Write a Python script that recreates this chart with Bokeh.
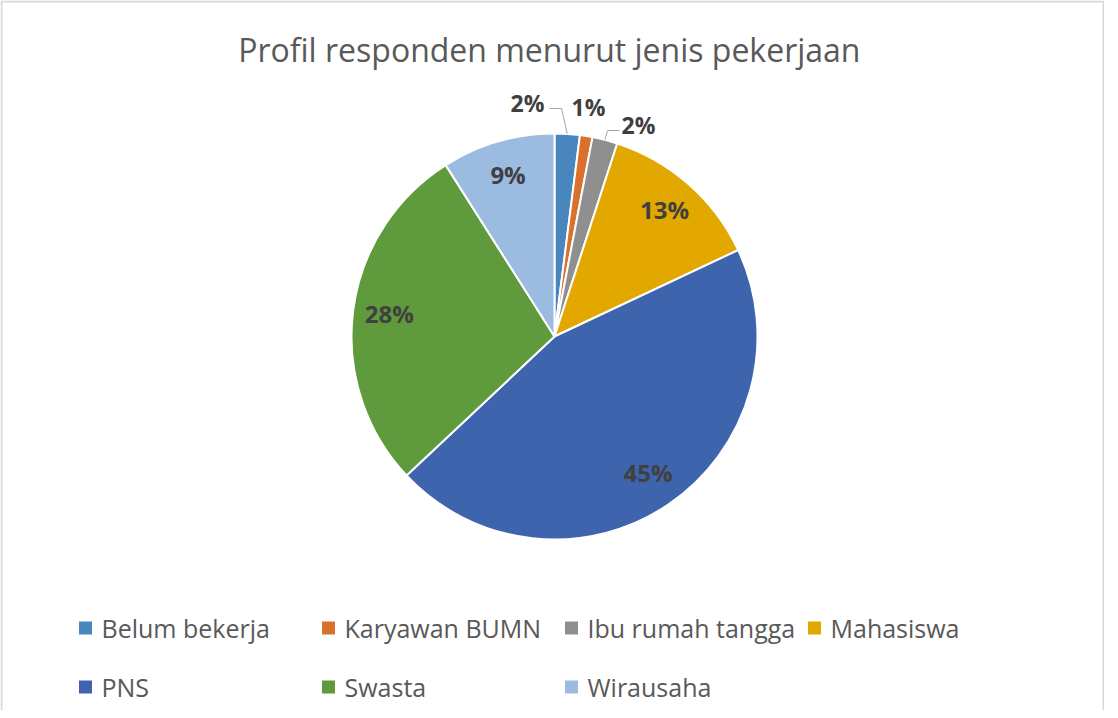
import math
from bokeh.plotting import figure
from bokeh.models import Range1d, ColumnDataSource
from bokeh.core.properties import value
from bokeh.embed import file_html
from bokeh.resources import INLINE

# ---- data ----
categories = ["Belum bekerja", "Karyawan BUMN", "Ibu rumah tangga", "Mahasiswa",
              "PNS", "Swasta", "Wirausaha"]
percent = [2, 1, 2, 13, 45, 28, 9]
colors = ["#4a86be", "#d9702c", "#8f8f8f", "#e2a800", "#3e64ad", "#5f9a3c", "#9bbbe0"]
title_text = "Profil responden  menurut jenis pekerjaan"

W, H = 1104, 710
FONT = "Open Sans"

p = figure(width=W, height=H, output_backend="svg", toolbar_location=None,
           x_range=Range1d(0, W), y_range=Range1d(0, H), min_border=0,
           background_fill_color="white", border_fill_color="white")
p.axis.visible = False
p.grid.visible = False
p.outline_line_color = None

# chart border (left, top, right; bottom is cut off by the window)
p.line(x=[1, 1, W - 1, W - 1], y=[0, H - 1, H - 1, 0], line_color="#d9d9d9", line_width=2)

# pie geometry (in canvas pixel units)
cx, cy, R = 554, 374, 203
total = sum(percent)
cum = [0]
for v in percent:
    cum.append(cum[-1] + v)
starts = [math.pi / 2 - 2 * math.pi * cum[i + 1] / total for i in range(len(percent))]
ends = [math.pi / 2 - 2 * math.pi * cum[i] / total for i in range(len(percent))]
mids = [math.pi / 2 - 2 * math.pi * (cum[i] + percent[i] / 2) / total for i in range(len(percent))]

src = ColumnDataSource(dict(start=starts, end=ends, color=colors, cat=categories))
p.wedge(x=cx, y=cy, radius=R, start_angle="start", end_angle="end",
        fill_color="color", line_color="white", line_width=2, source=src)

# data labels
labels = [f"{v}%" for v in percent]
in_x, in_y, in_t = [], [], []
for i, v in enumerate(percent):
    if v >= 5:
        in_x.append(cx + 0.82 * R * math.cos(mids[i]))
        in_y.append(cy + 0.82 * R * math.sin(mids[i]) + 2)
        in_t.append(labels[i])
p.text(x=in_x, y=in_y, text=in_t, text_font=value(FONT), text_font_style="bold",
       text_font_size="24px", text_color="#404040", text_align="center",
       text_baseline="middle")

# outside labels for small slices (layout positions)
out_pos = {0: (527, 608), 1: (588, 604), 2: (638, 586)}
ox, oy, ot = [], [], []
for i, (x, y) in out_pos.items():
    ox.append(x)
    oy.append(y)
    ot.append(labels[i])
p.text(x=ox, y=oy, text=ot, text_font=value(FONT), text_font_style="bold",
       text_font_size="23px", text_color="#404040", text_align="center",
       text_baseline="middle")

# leader lines
e0 = (cx + R * math.cos(mids[0]), cy + R * math.sin(mids[0]))
p.line(x=[549, 561, e0[0]], y=[602, 602, e0[1]], line_color="#a6a6a6", line_width=1)
e2 = (cx + R * math.cos(mids[2]), cy + R * math.sin(mids[2]))
p.line(x=[e2[0], 607, 619], y=[e2[1], 580, 580], line_color="#a6a6a6", line_width=1)

# title
p.text(x=[553], y=[661], text=[title_text], text_font=value(FONT),
       text_font_size="32px", text_color="#595959", text_align="center",
       text_baseline="middle")

# legend
lx, ly, tx, ty = [], [], [], []
for i, c in enumerate(categories):
    col, row = i % 4, i // 4
    lx.append(85 + 243 * col)
    ly.append(82.5 - 59 * row)
    tx.append(101 + 243 * col)
    ty.append(82.5 - 59 * row)
p.rect(x=lx, y=ly, width=13, height=13, width_units="screen", height_units="screen",
       fill_color=colors, line_color=None)
p.text(x=tx, y=ty, text=categories, text_font=value(FONT), text_font_size="25px",
       text_color="#595959", text_align="left", text_baseline="middle")

open("out.html", "w").write(file_html(p, INLINE))
